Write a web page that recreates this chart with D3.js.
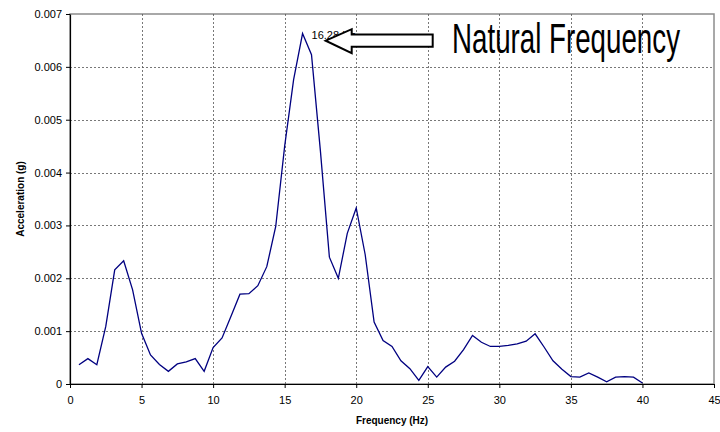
<!DOCTYPE html>
<html>
<head>
<meta charset="utf-8">
<script src="https://cdn.jsdelivr.net/npm/d3@7"></script>
<style>
  body { margin: 0; background: #fff; }
  text { font-family: "Liberation Sans", Arial, sans-serif; }
</style>
</head>
<body>
<div id="chart"></div>
<script>
// chart data
var frequency = [0.625, 1.25, 1.875, 2.5, 3.125, 3.75, 4.375, 5, 5.625, 6.25,
  6.875, 7.5, 8.125, 8.75, 9.375, 10, 10.625, 11.25, 11.875, 12.5,
  13.125, 13.75, 14.375, 15, 15.625, 16.25, 16.875, 17.5, 18.125, 18.75,
  19.375, 20, 20.625, 21.25, 21.875, 22.5, 23.125, 23.75, 24.375, 25,
  25.625, 26.25, 26.875, 27.5, 28.125, 28.75, 29.375, 30, 30.625, 31.25,
  31.875, 32.5, 33.125, 33.75, 34.375, 35, 35.625, 36.25, 36.875, 37.5,
  38.125, 38.75, 39.375, 40];

var acceleration = [0.000365, 0.00048, 0.000365, 0.00109, 0.00216, 0.00233, 0.00178, 0.00096, 0.00055, 0.00037,
  0.00024, 0.00038, 0.00042, 0.00048, 0.00024, 0.00069, 0.00087, 0.00128, 0.0017, 0.00171,
  0.00186, 0.00222, 0.00298, 0.0045, 0.00576, 0.00663, 0.00623, 0.0044, 0.0024, 0.002,
  0.00285, 0.00333, 0.00245, 0.00117, 0.00082, 0.00071, 0.00044, 0.00029, 0.00007, 0.00033,
  0.00013, 0.00032, 0.00043, 0.00065, 0.00092, 0.00079, 0.00071, 0.00071, 0.00073, 0.00076,
  0.00081, 0.00095, 0.0007, 0.00044, 0.00028, 0.00014, 0.00013, 0.00021, 0.00013, 0.00004,
  0.00013, 0.00014, 0.00013, 0.00002];

var xTicks = [0, 5, 10, 15, 20, 25, 30, 35, 40, 45];
var yTicks = [0, 0.001, 0.002, 0.003, 0.004, 0.005, 0.006, 0.007];

var peakLabel = "16.28 Hz";
var calloutText = "Natural Frequency";
var xTitle = "Frequency (Hz)";
var yTitle = "Acceleration (g)";

// sizes
var svgWidth = 720;
var svgHeight = 432;

var margin = { top: 14, right: 6, bottom: 48, left: 70 };

var width = svgWidth - margin.left - margin.right;
var height = svgHeight - margin.top - margin.bottom;

var svg = d3.select("#chart")
  .append("svg")
  .attr("width", svgWidth)
  .attr("height", svgHeight);

var chartGroup = svg.append("g")
  .attr("transform", `translate(${margin.left}, ${margin.top})`);

// scales
var xScale = d3.scaleLinear().domain([0, 45]).range([0, width]);
var yScale = d3.scaleLinear().domain([0, 0.007]).range([height, 0]);

// plot border (top/right are grey)
chartGroup.append("rect")
  .attr("x", 0)
  .attr("y", 0)
  .attr("width", width)
  .attr("height", height)
  .attr("fill", "#fff")
  .attr("stroke", "#8c8c8c")
  .attr("stroke-width", 1.5);

// gridlines
chartGroup.append("g")
  .selectAll("line")
  .data(yTicks.slice(1, -1))
  .enter()
  .append("line")
  .attr("x1", 0)
  .attr("x2", width)
  .attr("y1", d => Math.round(yScale(d)) + 0.5)
  .attr("y2", d => Math.round(yScale(d)) + 0.5)
  .attr("stroke", "#555")
  .attr("stroke-width", 0.8)
  .attr("stroke-dasharray", "2,2");

chartGroup.append("g")
  .selectAll("line")
  .data(xTicks.slice(1, -1))
  .enter()
  .append("line")
  .attr("x1", d => Math.round(xScale(d)) + 0.5)
  .attr("x2", d => Math.round(xScale(d)) + 0.5)
  .attr("y1", 0)
  .attr("y2", height)
  .attr("stroke", "#555")
  .attr("stroke-width", 0.8)
  .attr("stroke-dasharray", "2,2");

// axes
var bottomAxis = d3.axisBottom(xScale)
  .tickValues(xTicks)
  .tickSizeInner(4)
  .tickSizeOuter(0)
  .tickPadding(8)
  .tickFormat(d3.format("d"));

var leftAxis = d3.axisLeft(yScale)
  .tickValues(yTicks)
  .tickSizeInner(4)
  .tickSizeOuter(0)
  .tickPadding(4)
  .tickFormat(d => d === 0 ? "0" : d3.format(".3f")(d));

var xAxis = chartGroup.append("g")
  .attr("transform", `translate(0, ${height})`)
  .call(bottomAxis);

var yAxis = chartGroup.append("g")
  .call(leftAxis);

[xAxis, yAxis].forEach(function(ax) {
  ax.selectAll("text")
    .attr("font-family", "'Liberation Sans', Arial, sans-serif")
    .attr("font-size", "11px")
    .attr("fill", "#000");
  ax.select(".domain").attr("stroke", "#000").attr("stroke-width", 1.2);
  ax.selectAll(".tick line").attr("stroke", "#000");
});

// the line
var line = d3.line()
  .x((d, i) => xScale(frequency[i]))
  .y(d => yScale(d));

chartGroup.append("path")
  .datum(acceleration)
  .attr("d", line)
  .attr("fill", "none")
  .attr("stroke", "#000080")
  .attr("stroke-width", 1.3)
  .attr("stroke-linejoin", "miter");

// peak label
var peakIndex = acceleration.indexOf(d3.max(acceleration));

chartGroup.append("text")
  .attr("x", xScale(frequency[peakIndex]) + 9)
  .attr("y", yScale(acceleration[peakIndex]) + 5)
  .attr("font-size", "11px")
  .attr("fill", "#000")
  .text(peakLabel);

// arrow pointing at the peak label
var tipX = 325.7 - margin.left;
var tipY = 40.7 - margin.top;
var arrowPoints = [
  [tipX, tipY],
  [tipX + 26, tipY - 11.5],
  [tipX + 26, tipY - 6.3],
  [tipX + 107, tipY - 6.3],
  [tipX + 107, tipY + 6],
  [tipX + 26, tipY + 6],
  [tipX + 26, tipY + 12.5]
];

chartGroup.append("polygon")
  .attr("points", arrowPoints.map(p => p.join(",")).join(" "))
  .attr("fill", "#fff")
  .attr("stroke", "#000")
  .attr("stroke-width", 2)
  .attr("stroke-linejoin", "miter");

// callout text, stretched upward to look condensed
svg.append("text")
  .attr("transform", "translate(452, 53) scale(1, 1.55)")
  .attr("font-size", "27.5px")
  .attr("textLength", 228)
  .attr("lengthAdjust", "spacingAndGlyphs")
  .attr("fill", "#000")
  .text(calloutText);

// axis titles
svg.append("text")
  .attr("x", margin.left + width / 2)
  .attr("y", 424)
  .attr("text-anchor", "middle")
  .attr("font-size", "10px")
  .attr("font-weight", "bold")
  .text(xTitle);

svg.append("text")
  .attr("transform", `translate(23.5, ${margin.top + height / 2}) rotate(-90)`)
  .attr("text-anchor", "middle")
  .attr("font-size", "10px")
  .attr("font-weight", "bold")
  .text(yTitle);
</script>
</body>
</html>
